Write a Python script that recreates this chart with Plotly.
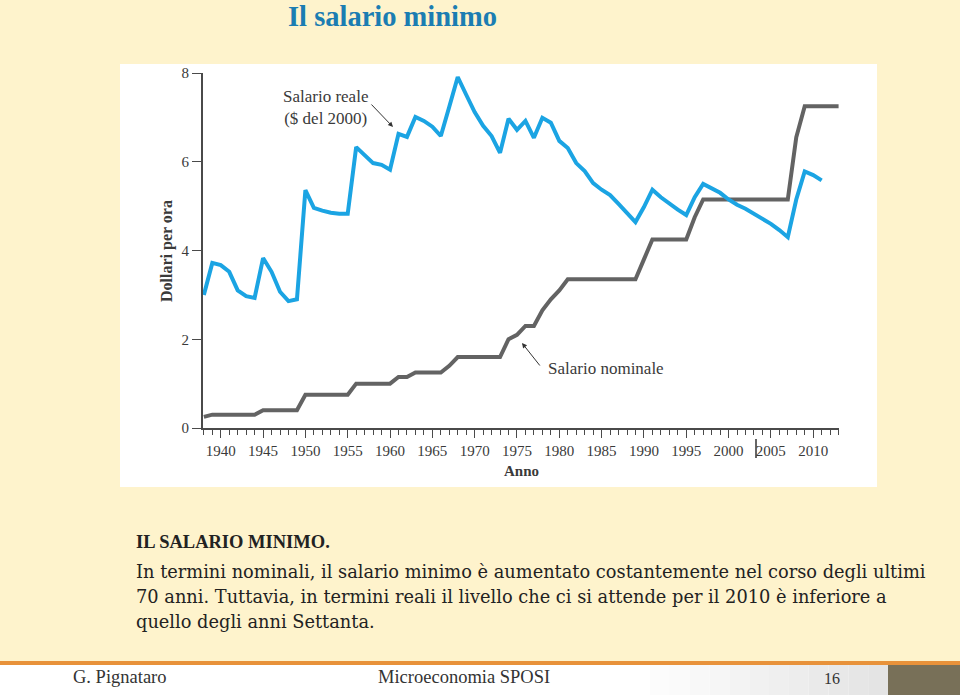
import plotly.graph_objects as go

# ---------------- data ----------------
years_real = list(range(1938, 2012))
real_wage = [3.00, 3.72, 3.67, 3.52, 3.10, 2.97, 2.93, 3.83, 3.52, 3.07,
             2.86, 2.90, 5.36, 4.96, 4.90, 4.85, 4.83, 4.83, 6.33, 6.15,
             5.97, 5.93, 5.82, 6.63, 6.56, 7.01, 6.92, 6.79, 6.58, 7.24,
             7.91, 7.51, 7.12, 6.81, 6.58, 6.20, 6.97, 6.72, 6.92, 6.54,
             6.99, 6.88, 6.47, 6.31, 5.97, 5.79, 5.52, 5.37, 5.25, 5.05,
             4.85, 4.64, 4.98, 5.37, 5.20, 5.05, 4.92, 4.80, 5.20, 5.50,
             5.41, 5.30, 5.15, 5.03, 4.94, 4.83, 4.71, 4.60, 4.46, 4.30,
             5.15, 5.78, 5.70, 5.58]

years_nom = list(range(1938, 2014))
nominal_wage = [0.25, 0.30, 0.30, 0.30, 0.30, 0.30, 0.30, 0.40, 0.40, 0.40,
                0.40, 0.40, 0.75, 0.75, 0.75, 0.75, 0.75, 0.75, 1.00, 1.00,
                1.00, 1.00, 1.00, 1.15, 1.15, 1.25, 1.25, 1.25, 1.25, 1.40,
                1.60, 1.60, 1.60, 1.60, 1.60, 1.60, 2.00, 2.10, 2.30, 2.30,
                2.65, 2.90, 3.10, 3.35, 3.35, 3.35, 3.35, 3.35, 3.35, 3.35,
                3.35, 3.35, 3.80, 4.25, 4.25, 4.25, 4.25, 4.25, 4.75, 5.15,
                5.15, 5.15, 5.15, 5.15, 5.15, 5.15, 5.15, 5.15, 5.15, 5.15,
                6.55, 7.25, 7.25, 7.25, 7.25, 7.25]

x_ticks = list(range(1940, 2015, 5))
y_ticks = [0, 2, 4, 6, 8]

W, H = 960, 695
def px(x): return x / W
def py(y): return 1 - y / H

BG = "#FEF3CC"
BLUE = "#1BA4E3"
GRAY = "#636363"
AXC = "#4a4a4a"
SERIF = "Liberation Serif"
BODY = "DejaVu Serif"

fig = go.Figure()
fig.add_trace(go.Scatter(x=years_nom, y=nominal_wage, mode="lines",
                         line=dict(color=GRAY, width=4), hoverinfo="skip",
                         showlegend=False))
fig.add_trace(go.Scatter(x=years_real, y=real_wage, mode="lines",
                         line=dict(color=BLUE, width=4), hoverinfo="skip",
                         showlegend=False))

shapes = [
    dict(type="rect", xref="paper", yref="paper", x0=px(120), x1=px(877),
         y0=py(487), y1=py(64), fillcolor="white", line=dict(width=0), layer="below"),
    dict(type="rect", xref="paper", yref="paper", x0=0, x1=1,
         y0=0, y1=py(663), fillcolor="white", line=dict(width=0), layer="below"),
]
n_bands = 12
for i in range(n_bands):
    x0 = 650 + i * (888 - 650) / n_bands
    x1 = 650 + (i + 1) * (888 - 650) / n_bands
    g = int(255 - (i + 1) * (255 - 228) / n_bands)
    shapes.append(dict(type="rect", xref="paper", yref="paper", x0=px(x0), x1=px(x1),
                       y0=0, y1=py(663), fillcolor=f"rgb({g},{g},{g})",
                       line=dict(width=0), layer="below"))
shapes += [
    dict(type="rect", xref="paper", yref="paper", x0=px(888), x1=1,
         y0=0, y1=py(664), fillcolor="#787058", line=dict(width=0), layer="below"),
    dict(type="rect", xref="paper", yref="paper", x0=0, x1=1,
         y0=py(665), y1=py(661), fillcolor="#E8923A", line=dict(width=0), layer="below"),
    dict(type="line", xref="paper", yref="paper", x0=px(756), x1=px(756),
         y0=py(458), y1=py(439), line=dict(color="#333333", width=1.5)),
]

TXT = "#3a3a3a"
annotations = [
    dict(text="<b>Il salario minimo</b>", x=px(392), y=1, xref="paper", yref="paper",
         showarrow=False, font=dict(family=SERIF, size=28.5, color="#1B7DB2"),
         xanchor="center", yanchor="top", borderpad=0),
    dict(text="Salario reale<br>($ del 2000)", x=px(325), y=py(108), xref="paper",
         yref="paper", showarrow=False, align="center",
         font=dict(family=SERIF, size=17, color=TXT), xanchor="center",
         yanchor="middle"),
    dict(x=px(393), y=py(127), ax=-23, ay=-24, xref="paper", yref="paper",
         axref="pixel", ayref="pixel", text="", showarrow=True, arrowhead=2,
         arrowsize=1, arrowwidth=1, arrowcolor="#333333"),
    dict(text="Salario nominale", x=px(546), y=py(368), xref="paper", yref="paper",
         showarrow=False, font=dict(family=SERIF, size=17, color=TXT),
         xanchor="left", yanchor="middle"),
    dict(x=px(522), y=py(343), ax=19, ay=24, xref="paper", yref="paper",
         axref="pixel", ayref="pixel", text="", showarrow=True, arrowhead=2,
         arrowsize=1, arrowwidth=1, arrowcolor="#333333"),
    dict(text="<b>Dollari per ora</b>", x=px(167), y=py(251), xref="paper", yref="paper",
         showarrow=False, textangle=-90, font=dict(family=SERIF, size=16, color=TXT),
         xanchor="center", yanchor="middle"),
    dict(text="<b>Anno</b>", x=px(521), y=py(471), xref="paper", yref="paper",
         showarrow=False, font=dict(family=SERIF, size=15, color=TXT),
         xanchor="center", yanchor="middle"),
    dict(text="<b>IL SALARIO MINIMO.</b>", x=px(134), y=py(542), xref="paper",
         yref="paper", showarrow=False, font=dict(family=SERIF, size=18.5, color="#222222"),
         xanchor="left", yanchor="middle"),
    dict(text="In termini nominali, il salario minimo è aumentato costantemente nel corso degli ultimi",
         x=px(134), y=py(571), xref="paper", yref="paper", showarrow=False,
         font=dict(family=BODY, size=17.8, color="#222222"), xanchor="left", yanchor="middle"),
    dict(text="70 anni. Tuttavia, in termini reali il livello che ci si attende per il 2010 è inferiore a",
         x=px(134), y=py(596), xref="paper", yref="paper", showarrow=False,
         font=dict(family=BODY, size=17.8, color="#222222"), xanchor="left", yanchor="middle"),
    dict(text="quello degli anni Settanta.",
         x=px(134), y=py(621), xref="paper", yref="paper", showarrow=False,
         font=dict(family=BODY, size=17.8, color="#222222"), xanchor="left", yanchor="middle"),
    dict(text="G. Pignataro", x=px(71), y=py(677), xref="paper", yref="paper",
         showarrow=False, font=dict(family=SERIF, size=18.5, color="#333333"),
         xanchor="left", yanchor="middle"),
    dict(text="Microeconomia SPOSI", x=px(464), y=py(677), xref="paper", yref="paper",
         showarrow=False, font=dict(family=SERIF, size=18.5, color="#333333"),
         xanchor="center", yanchor="middle"),
    dict(text="16", x=px(832), y=py(678), xref="paper", yref="paper",
         showarrow=False, font=dict(family=SERIF, size=16, color="#333333"),
         xanchor="center", yanchor="middle"),
]

fig.update_layout(
    width=W, height=H, margin=dict(l=0, r=0, t=0, b=0, pad=0, autoexpand=False),
    paper_bgcolor=BG, plot_bgcolor="rgba(0,0,0,0)",
    shapes=shapes, annotations=annotations,
    xaxis=dict(domain=[px(203), px(839)], range=[1937.9, 2013.05],
               tickvals=x_ticks, ticktext=[str(v) for v in x_ticks],
               ticks="outside", ticklen=8, tickwidth=1.3, tickcolor=AXC,
               minor=dict(dtick=1, tick0=1938, ticks="outside", ticklen=5,
                          tickwidth=1, tickcolor=AXC, showgrid=False),
               showline=True, linecolor=AXC, linewidth=2, showgrid=False,
               zeroline=False, tickfont=dict(family=SERIF, size=15, color=TXT),
               automargin=False, fixedrange=True),
    yaxis=dict(domain=[py(428), py(73)], range=[0, 8], tickvals=y_ticks,
               ticks="outside", ticklen=9, tickwidth=1.3, tickcolor=AXC,
               showline=True, linecolor=AXC, linewidth=2, showgrid=False,
               zeroline=False, tickfont=dict(family=SERIF, size=15, color=TXT),
               automargin=False, fixedrange=True),
)

post = ("document.documentElement.style.margin='0';"
        "document.documentElement.style.padding='0';"
        "document.documentElement.style.overflow='hidden';"
        "document.body.style.margin='0';document.body.style.padding='0';"
        "document.body.style.overflow='hidden';"
        "var d=document.getElementById('{plot_id}');"
        "d.style.position='fixed';d.style.left='0px';d.style.top='0px';")

fig.write_html("out.html", config={"displayModeBar": False}, post_script=post)
